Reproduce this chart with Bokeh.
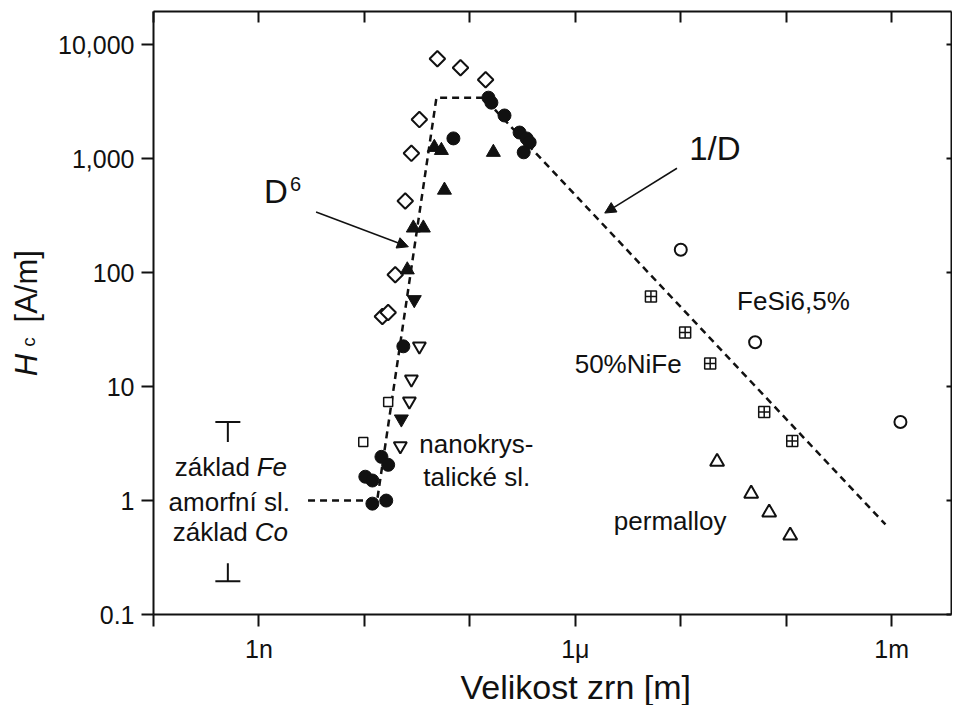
import json, math
from bokeh.plotting import figure
from bokeh.layouts import row
from bokeh.models import (LogAxis, FixedTicker, CustomJSTickFormatter, Label,
                          Arrow, NormalHead, Range1d, Title)
from bokeh.embed import file_html
from bokeh.resources import INLINE

# ---------------- data ----------------
x_ticks_labelled = [1e-9, 1e-6, 1e-3]
x_tick_labels = ["1n", "1\u03bc", "1m"]
x_ticks_plain = [1e-10, 1e-8, 1e-7, 1e-5, 1e-4]
y_ticks = [0.1, 1, 10, 100, 1000, 10000]
y_tick_labels = ["0.1", "1", "10", "100", "1,000", "10,000"]

diamond_x = [4.92e-8, 8.15e-8, 1.41e-7, 3.32e-8, 2.79e-8, 2.44e-8, 1.96e-8, 1.48e-8, 1.68e-8]
diamond_y = [7560, 6300, 4940, 2210, 1117, 426, 96, 41.3, 44.8]

dot_x = [1.50e-7, 1.60e-7, 2.13e-7, 2.96e-7, 3.45e-7, 3.69e-7, 3.24e-7, 6.98e-8,
         2.34e-8, 1.45e-8, 1.68e-8, 1.02e-8, 1.19e-8, 1.19e-8, 1.61e-8]
dot_y = [3440, 3110, 2400, 1700, 1510, 1393, 1140, 1510,
         22.6, 2.42, 2.06, 1.62, 1.50, 0.94, 1.0]

tri_up_fill_x = [4.60e-8, 5.37e-8, 1.67e-7, 5.74e-8, 2.91e-8, 3.62e-8, 2.55e-8]
tri_up_fill_y = [1260, 1185, 1140, 531, 247, 247, 106]

tri_down_fill_x = [2.97e-8, 2.24e-8]
tri_down_fill_y = [58, 5.2]

tri_down_open_x = [3.32e-8, 2.79e-8, 2.67e-8, 2.19e-8]
tri_down_open_y = [22.6, 11.6, 7.46, 3.02]

square_open_x = [1.68e-8, 9.75e-9]
square_open_y = [7.33, 3.27]

fesi_x = [1.0e-5, 5.07e-5, 1.21e-3]
fesi_y = [159, 24.5, 4.9]

nife_x = [5.21e-6, 1.10e-5, 1.90e-5, 6.18e-5, 1.14e-4]
nife_y = [61.7, 29.9, 16.0, 5.98, 3.34]

permalloy_x = [2.21e-5, 4.65e-5, 6.89e-5, 1.09e-4]
permalloy_y = [2.19, 1.15, 0.786, 0.494]

trend_x = [2.92e-9, 1.32e-8, 4.82e-8, 1.35e-7, 8.73e-4]
trend_y = [1.0, 1.0, 3440, 3440, 0.617]

# amorphous range bars (upper "T" for Fe base, lower for Co base)
amorph_x = [5.07e-10, 5.07e-10]
amorph_lo = [3.27, 0.196]
amorph_hi = [4.9, 0.282]
amorph_cap = [4.9, 0.196]

FONT = "Liberation Sans"
INK = "#111111"
H = 705
TOP = 9
BOTTOM = 88
SIDE_W = 50

y_range = Range1d(0.1, 19630)

p = figure(width=952 - SIDE_W, height=H, x_axis_type="log", y_axis_type="log",
           x_range=Range1d(1e-10, 3.69e-3), y_range=y_range,
           output_backend="svg", toolbar_location=None,
           min_border_left=153 - SIDE_W, min_border_right=1, min_border_top=TOP,
           min_border_bottom=BOTTOM)
p.grid.visible = False
p.outline_line_color = None
p.background_fill_color = "white"
p.border_fill_color = "white"


def fmt(ticks, labels):
    code = ("const T = %s; const L = %s;"
            "for (let i = 0; i < T.length; i++) {"
            " if (Math.abs(Math.log10(T[i]) - Math.log10(tick)) < 1e-6) return L[i]; }"
            "return '';") % (json.dumps(ticks), json.dumps(labels))
    return CustomJSTickFormatter(code=code)


def style(ax, major, minor, labels, tin, tout):
    ax.ticker = FixedTicker(ticks=major, minor_ticks=minor)
    ax.formatter = fmt(major, labels)
    ax.axis_line_width = 2
    ax.axis_line_color = INK
    for k in ("major", "minor"):
        setattr(ax, f"{k}_tick_line_width", 2)
        setattr(ax, f"{k}_tick_line_color", INK)
        setattr(ax, f"{k}_tick_in", tin)
        setattr(ax, f"{k}_tick_out", tout)
    ax.major_label_text_font = FONT
    ax.major_label_text_color = INK
    ax.major_label_text_font_size = "25px"
    ax.axis_label = None


style(p.xaxis[0], x_ticks_labelled, x_ticks_plain, x_tick_labels, 0, 12)
p.xaxis[0].major_label_standoff = 8
style(p.yaxis[0], y_ticks, [], y_tick_labels, 0, 12)
p.yaxis[0].major_label_standoff = 7

top = LogAxis()
style(top, [], x_ticks_labelled + x_ticks_plain, [], 11, 0)
top.major_label_standoff = 0
p.add_layout(top, "above")
right = LogAxis()
style(right, [], y_ticks, [], 5, 0)
right.major_label_standoff = 0
p.add_layout(right, "right")

p.add_layout(Title(text="Velikost zrn [m]", align="left", offset=307, standoff=0,
                   text_font=FONT, text_font_size="34px", text_font_style="normal",
                   text_color=INK), "below")

# trend line
p.line(trend_x, trend_y, line_color=INK, line_width=2.5, line_dash="7 5")

# amorphous range bars
p.segment(x0=amorph_x, y0=amorph_lo, x1=amorph_x, y1=amorph_hi,
          line_color=INK, line_width=2)
p.scatter(amorph_x, amorph_cap, marker="dash", size=25, line_color=INK, line_width=2)

# markers
p.scatter(diamond_x, diamond_y, marker="square", angle=math.pi / 4, size=11,
          fill_color="white", line_color=INK, line_width=2)
p.scatter(dot_x, dot_y, marker="circle", size=13, fill_color=INK, line_color=INK)
p.scatter(tri_up_fill_x, tri_up_fill_y, marker="triangle", size=14,
          fill_color=INK, line_color=INK)
p.scatter(tri_down_fill_x, tri_down_fill_y, marker="inverted_triangle", size=14,
          fill_color=INK, line_color=INK)
p.scatter(tri_down_open_x, tri_down_open_y, marker="inverted_triangle", size=13,
          fill_color="white", line_color=INK, line_width=2)
p.scatter(square_open_x, square_open_y, marker="square", size=9,
          fill_color="white", line_color=INK, line_width=1.5)
p.scatter(fesi_x, fesi_y, marker="circle", size=12,
          fill_color="white", line_color=INK, line_width=2)
p.scatter(nife_x, nife_y, marker="square_cross", size=11,
          fill_color="white", line_color=INK, line_width=1.5)
p.scatter(permalloy_x, permalloy_y, marker="triangle", size=14,
          fill_color="white", line_color=INK, line_width=2)

# arrows
for xs, ys, xe, ye in [(3.48e-9, 341, 2.61e-8, 169), (9.2e-6, 826, 1.90e-6, 334)]:
    p.add_layout(Arrow(x_start=xs, y_start=ys, x_end=xe, y_end=ye,
                       line_color=INK, line_width=1.5,
                       end=NormalHead(size=11, fill_color=INK, line_color=INK)))


def lab(fig, text, x, y, size, style_="normal", align="left", baseline="middle",
        angle=0.0, x_offset=0):
    fig.add_layout(Label(x=x, y=y, text=text, text_font=FONT,
                         text_font_size=f"{size}px", text_font_style=style_,
                         text_color=INK, text_align=align, text_baseline=baseline,
                         angle=angle, x_offset=x_offset))


lab(p, "D", 1.117e-9, 520, 33)
lab(p, "6", 1.97e-9, 599, 20)
lab(p, "1/D", 1.20e-5, 1236, 33)
lab(p, "FeSi6,5%", 3.42e-5, 55.9, 26)
lab(p, "50%NiFe", 9.86e-7, 15.7, 26)
lab(p, "permalloy", 2.32e-6, 0.656, 26)
lab(p, "nanokrys-", 3.32e-8, 3.15, 26)
lab(p, "talické sl.", 3.62e-8, 1.62, 26)
lab(p, "základ ", 1.59e-10, 1.98, 26)
lab(p, "Fe", 1.59e-10, 1.98, 26, style_="italic", x_offset=82)
lab(p, "amorfní sl.", 1.39e-10, 0.98, 26)
lab(p, "základ ", 1.52e-10, 0.526, 26)
lab(p, "Co", 1.52e-10, 0.526, 26, style_="italic", x_offset=82)

# narrow strip on the left that carries the y-axis title (H italic, subscript c)
side = figure(width=SIDE_W, height=H, y_axis_type="log",
              x_range=Range1d(0, SIDE_W), y_range=y_range,
              x_axis_location=None, y_axis_location=None,
              output_backend="svg", toolbar_location=None,
              min_border_left=0, min_border_right=0,
              min_border_top=TOP + 2, min_border_bottom=BOTTOM)
side.grid.visible = False
side.outline_line_color = None
side.border_fill_color = "white"
lab(side, "H", 26, 12.37, 31, style_="italic", baseline="alphabetic", angle=math.pi / 2)
lab(side, "c", 28, 22.4, 19, baseline="alphabetic", angle=math.pi / 2)
lab(side, "[A/m]", 26, 36.6, 31, baseline="alphabetic", angle=math.pi / 2)

layout = row(side, p, spacing=0)
open("out.html", "w").write(file_html(layout, INLINE))
